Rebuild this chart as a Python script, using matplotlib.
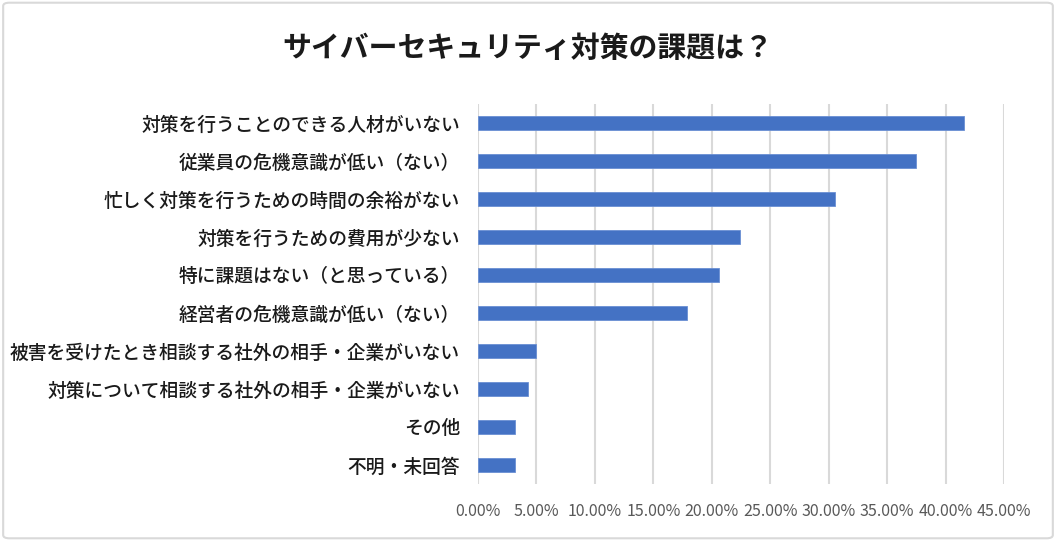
import matplotlib
matplotlib.use("Agg")
import matplotlib.pyplot as plt
from matplotlib.patches import FancyBboxPatch
from matplotlib.ticker import FuncFormatter, MultipleLocator

plt.rcParams['font.family'] = ['Noto Sans CJK JP', 'DejaVu Sans']

# 回答項目と割合（%）
kadai = [
    "対策を行うことのできる人材がいない",
    "従業員の危機意識が低い（ない）",
    "忙しく対策を行うための時間の余裕がない",
    "対策を行うための費用が少ない",
    "特に課題はない（と思っている）",
    "経営者の危機意識が低い（ない）",
    "被害を受けたとき相談する社外の相手・企業がいない",
    "対策について相談する社外の相手・企業がいない",
    "その他",
    "不明・未回答",
]
wariai = [41.6, 37.45, 30.55, 22.4, 20.65, 17.85, 5.0, 4.3, 3.15, 3.15]

fig = plt.figure(figsize=(10.56, 5.41), dpi=100)
ax = fig.add_axes([0.4527, 0.1054, 0.4981, 0.7024])

ax.barh(range(len(kadai)), wariai, height=0.35, color="#4472C4",
        edgecolor="#6A8FD3", linewidth=0.6, zorder=3)

ax.set_xlim(0, 45)
ax.set_ylim(len(kadai) - 0.5, -0.5)
ax.set_yticks(range(len(kadai)))
ax.set_yticklabels(kadai, fontsize=13.5, fontweight="medium", color="#1a1a1a")
ax.xaxis.set_major_locator(MultipleLocator(5))
ax.xaxis.set_major_formatter(FuncFormatter(lambda v, p: f"{v:.2f}%"))
ax.tick_params(axis="x", labelsize=11.5, labelcolor="#595959", length=0, pad=14)
ax.tick_params(axis="y", length=0, pad=13)

ax.grid(axis="x", color="#D9D9D9", linewidth=1.5, zorder=0)
for s in ax.spines.values():
    s.set_visible(False)

fig.text(0.5, 0.911, "サイバーセキュリティ対策の課題は？", ha="center", va="center",
         fontsize=20.8, fontweight="bold", color="#1a1a1a")

# 外枠
rahmen = FancyBboxPatch((0.003, 0.005), 0.994, 0.99, boxstyle="round,pad=0,rounding_size=0.006",
                        transform=fig.transFigure, facecolor="none", edgecolor="#D9D9D9",
                        linewidth=1.5)
fig.patches.append(rahmen)

fig.savefig("out.png", dpi=100)
